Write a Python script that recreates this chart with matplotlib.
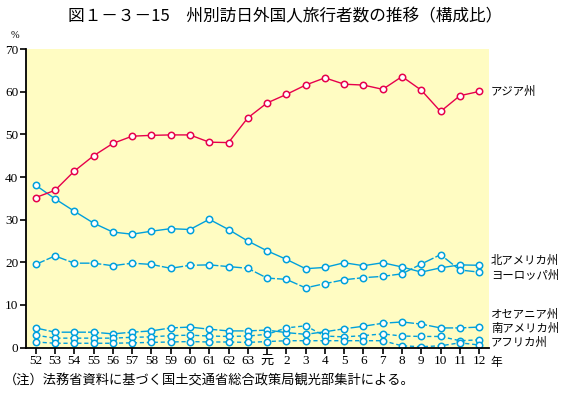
import matplotlib.pyplot as plt

plt.rcParams['font.family'] = ['Liberation Serif', 'Noto Sans CJK JP']

# --- data: share of foreign visitors by region (%) ---
years = ['52', '53', '54', '55', '56', '57', '58', '59', '60', '61', '62', '63',
         '元', '2', '3', '4', '5', '6', '7', '8', '9', '10', '11', '12']

asia = [35.2, 36.9, 41.4, 45.0, 47.9, 49.6, 49.8, 49.9, 49.9, 48.2, 48.1, 53.9,
        57.4, 59.4, 61.6, 63.3, 61.8, 61.6, 60.6, 63.6, 60.4, 55.4, 59.1, 60.1]
north_america = [38.1, 34.9, 32.0, 29.2, 27.1, 26.6, 27.3, 27.9, 27.7, 30.1, 27.7, 25.0,
                 22.7, 20.7, 18.5, 18.8, 19.9, 19.2, 19.9, 18.9, 17.7, 18.7, 19.4, 19.3]
europe = [19.5, 21.5, 19.8, 19.8, 19.2, 19.8, 19.5, 18.6, 19.3, 19.4, 19.0, 18.6,
          16.3, 16.0, 14.0, 15.0, 15.9, 16.4, 16.7, 17.3, 19.6, 21.8, 18.2, 17.7]
oceania = [4.6, 3.6, 3.6, 3.6, 3.2, 3.6, 3.9, 4.6, 4.8, 4.3, 3.9, 3.9,
           4.1, 3.5, 3.1, 3.7, 4.4, 5.0, 5.7, 6.0, 5.5, 4.6, 4.6, 4.8]
south_america = [2.9, 2.2, 2.2, 2.2, 2.2, 2.4, 2.5, 2.8, 2.9, 2.7, 2.6, 2.7,
                 3.1, 4.6, 5.1, 2.7, 2.5, 2.8, 3.2, 2.7, 2.6, 2.6, 1.6, 1.8]
africa = [1.3, 1.0, 1.0, 1.0, 1.0, 1.1, 1.2, 1.3, 1.4, 1.3, 1.3, 1.2,
          1.4, 1.6, 1.6, 1.6, 1.6, 1.6, 1.6, 0.4, 0.2, 0.4, 1.1, 0.6]

# label name and where its text sits on the right (y in %)
labels = ['アジア州', '北アメリカ州', 'ヨーロッパ州', 'オセアニア州', '南アメリカ州', 'アフリカ州']
label_y = [60.2, 20.5, 16.9, 7.8, 4.6, 1.2]

red = '#e6004c'
cyan = '#00a0dc'

fig = plt.figure(figsize=(5.67, 3.99), dpi=100)
ax = fig.add_axes([0.046, 0.129, 0.816, 0.7475])
ax.set_facecolor('#fffcc2')

x = range(len(years))
mk = dict(marker='o', markersize=4.6, markerfacecolor='white', markeredgewidth=1.1, lw=1.0)

ax.plot(x, asia, color=red, **mk, zorder=5)
ax.plot(x, north_america, color=cyan, **mk)
ax.plot(x, europe, color=cyan, dashes=(7, 1.5), **mk)
ax.plot(x, oceania, color=cyan, dashes=(8, 1.5), **mk)
ax.plot(x, south_america, color=cyan, dashes=(3, 2), **mk)
ax.plot(x, africa, color=cyan, dashes=(3, 2), **mk)

for name, ly in zip(labels, label_y):
    ax.text(23.62, ly, name, fontsize=8.2, va='center', ha='left',
            family='Noto Sans CJK JP', clip_on=False)

ax.set_xlim(-0.5, 23.5)
ax.set_ylim(0, 70)
ax.set_xticks(list(x))
ax.set_xticklabels(years)
ax.set_yticks(range(0, 71, 10))
ax.tick_params(axis='both', length=4, width=1.2, direction='out', labelsize=9.5, pad=1.5)
for s in ['top', 'right']:
    ax.spines[s].set_visible(False)
for s in ['left', 'bottom']:
    ax.spines[s].set_linewidth(1.3)

ax.text(23.6, -1.9, '年', fontsize=8.5, va='top', ha='left',
        family='Noto Sans CJK JP', clip_on=False)
fig.text(15 / 567, 1 - 36 / 399, '%', fontsize=7.5, ha='center', va='center')

fig.text(285 / 567, 1 - 17 / 399, '図１－３－15　州別訪日外国人旅行者数の推移（構成比）',
         fontsize=12, ha='center', va='center', family='Noto Sans CJK JP')
fig.text(4 / 567, 1 - 381 / 399, '（注）法務省資料に基づく国土交通省総合政策局観光部集計による。',
         fontsize=9.5, ha='left', va='center', family='Noto Sans CJK JP')

plt.savefig('out.png', dpi=100)
